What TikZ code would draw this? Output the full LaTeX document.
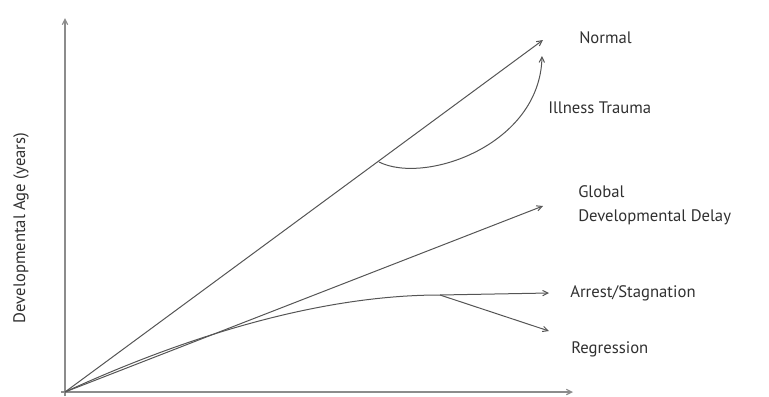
\documentclass[tikz,border=0pt]{standalone}
\usepackage{fontspec}
\setmainfont{PT Sans}
\usepackage{xcolor}
\usetikzlibrary{arrows.meta, positioning, calc}
\definecolor{linegray}{HTML}{555555}
\definecolor{axisgray}{HTML}{8C8C8C}
\definecolor{textgray}{HTML}{303030}

\begin{document}
\begin{tikzpicture}[x=0.75pt, y=-0.75pt,
    curve/.style={draw=linegray, line width=0.75pt, -{Straight Barb[length=4pt, width=4pt]}},
    axis/.style={draw=axisgray, line width=0.9pt, -{Straight Barb[length=4pt, width=4pt]}},
    label/.style={anchor=west, text=textgray, font=\fontsize{12.5}{18}\selectfont, inner sep=0pt}]
  \useasboundingbox (0,0) rectangle (769,397);

  % Points
  \coordinate (o) at (65,392);
  \coordinate (ytop) at (65,18);
  \coordinate (xend) at (573,392);
  \coordinate (normalend) at (543,40);
  \coordinate (dip) at (379,162);
  \coordinate (traumaend) at (542,56);
  \coordinate (globalend) at (543,206);
  \coordinate (split) at (440,295);
  \coordinate (arrestend) at (549,293);
  \coordinate (regressend) at (549,331);

  % Axes
  \draw[axis] (65,396) -- (ytop);
  \draw[axis] (61,392) -- (xend);

  % Labels
  \node[label] (normal) at (579,38) {Normal};
  \node[label] (trauma) at (548,108) {Illness Trauma};
  \node[label, align=left] (global) at (578,205) {Global\\Developmental Delay};
  \node[label] (arrest) at (570,293) {Arrest/Stagnation};
  \node[label] (regress) at (571,349) {Regression};
  \node[label, anchor=center, rotate=90] (yaxis) at (21,228) {Developmental Age (years)};

  % Trajectories
  \draw[curve] (o) -- (normalend);
  \draw[curve] (dip) .. controls (425,185) and (540,145) .. (traumaend);
  \draw[curve] (o) -- (globalend);
  \draw[curve] (o) .. controls (200,330) and (330,295) .. (split) -- (arrestend);
  \draw[curve] (split) -- (regressend);
\end{tikzpicture}
\end{document}
